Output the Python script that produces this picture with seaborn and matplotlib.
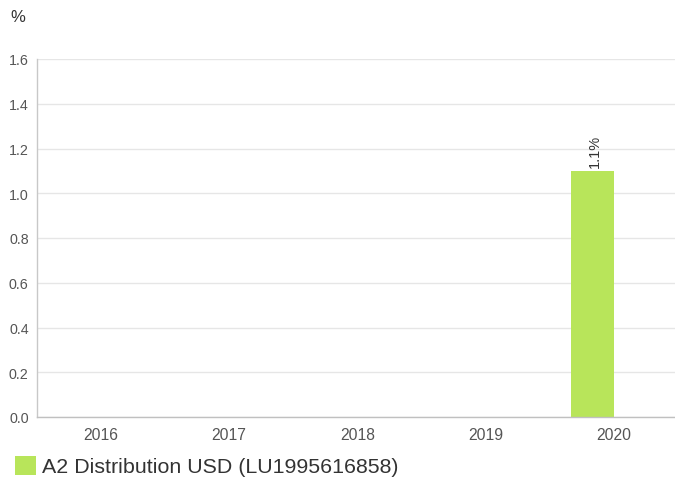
import numpy as np
import pandas as pd
import matplotlib
matplotlib.use("Agg")
import matplotlib.pyplot as plt
import seaborn as sns
from matplotlib.patches import Patch

years = ["2016", "2017", "2018", "2019", "2020"]
series_name = "A2 Distribution USD (LU1995616858)"
values = [np.nan, np.nan, np.nan, np.nan, 1.1]
hidden_name = "_hidden"
hidden_values = [np.nan, np.nan, np.nan, np.nan, np.nan]
y_ticks = [0.0, 0.2, 0.4, 0.6, 0.8, 1.0, 1.2, 1.4, 1.6]

df = pd.DataFrame({
    "year": years * 2,
    "value": values + hidden_values,
    "series": [series_name] * len(years) + [hidden_name] * len(years),
})

sns.set_theme(style="white")
plt.rcParams["font.family"] = ["Liberation Sans", "DejaVu Sans"]

fig = plt.figure(figsize=(6.75, 4.81), dpi=100)
ax = fig.add_axes([37 / 675, 63 / 481, 638 / 675, 358 / 481])

bar_color = "#b8e55a"
sns.barplot(data=df, x="year", y="value", hue="series",
            hue_order=[series_name, hidden_name],
            palette={series_name: bar_color, hidden_name: "#ffffff"},
            width=0.66, dodge=True, legend=False, ax=ax, saturation=1,
            linewidth=0)

ax.set_ylim(0, 1.6)
ax.set_xlim(-0.5, 4.48)
ax.set_yticks(y_ticks)
ax.set_yticklabels([f"{t:.1f}" for t in y_ticks])
ax.yaxis.grid(True, color="#e6e6e6", linewidth=1)
ax.set_axisbelow(True)
ax.set_xlabel("")
ax.set_ylabel("")
for s in ["top", "right"]:
    ax.spines[s].set_visible(False)
ax.spines["left"].set_color("#c8c8c8")
ax.spines["bottom"].set_color("#c0c0c0")
ax.spines["left"].set_linewidth(1)
ax.spines["bottom"].set_linewidth(1)
ax.tick_params(axis="both", length=0, colors="#555555")
ax.tick_params(axis="x", pad=7, labelsize=11.3)
ax.tick_params(axis="y", pad=6, labelsize=10.3)

for p in ax.patches:
    h = p.get_height()
    if h is not None and np.isfinite(h) and h > 0:
        ax.annotate(f"{h:.1f}%", (p.get_x() + p.get_width() / 2 + 0.02, h),
                    xytext=(0, 3), textcoords="offset points",
                    rotation=90, ha="center", va="bottom", fontsize=10.5,
                    color="#333333")

fig.text(10 / 675, 1 - 17 / 481, "%", fontsize=12, color="#333333",
         va="center", ha="left")

handles = [Patch(facecolor=bar_color, edgecolor="none")]
fig.legend(handles, [series_name], loc="center left",
           bbox_to_anchor=(15 / 675, 1 - 467 / 481), frameon=False,
           borderpad=0, borderaxespad=0,
           fontsize=15.4, handlelength=1.0, handleheight=1.0,
           handletextpad=0.28, labelcolor="#333333")

fig.savefig("out.png", dpi=100)
